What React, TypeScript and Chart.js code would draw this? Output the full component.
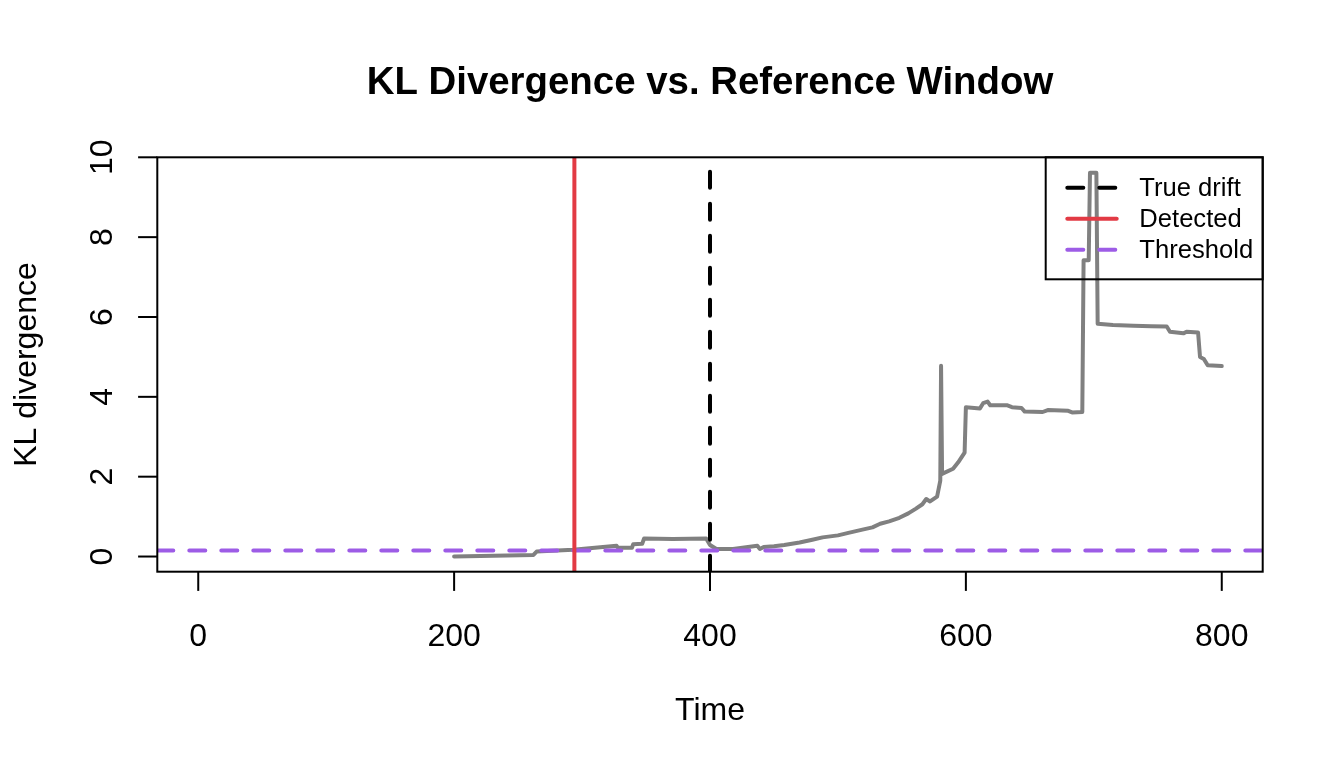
import { useEffect, useRef } from "react";
import { Chart, registerables } from "chart.js";

Chart.register(...registerables);

// ---- data ----
const times = [
  200, 262, 264.5, 293, 327, 328, 339, 340, 347, 348.5, 371, 397, 400, 405, 418,
  437, 439, 442, 450, 458, 470, 480, 488, 500, 509, 520, 527, 533, 540, 548, 555,
  561, 566, 569, 572, 577.5, 580, 580.6, 581.4, 590, 594, 599, 600, 611, 613.5,
  617, 619, 632, 636, 643.5, 646, 660, 664, 680, 683, 691, 692, 696, 697, 702,
  703, 715, 731, 745, 757, 759.5, 770, 772.5, 781.5, 783, 786, 789, 800,
];
const klValues = [
  0.0, 0.04, 0.125, 0.17, 0.27, 0.22, 0.22, 0.31, 0.32, 0.45, 0.44, 0.45, 0.29,
  0.19, 0.19, 0.27, 0.19, 0.24, 0.26, 0.29, 0.35, 0.42, 0.48, 0.53, 0.6, 0.68,
  0.73, 0.82, 0.88, 0.97, 1.08, 1.2, 1.31, 1.44, 1.38, 1.5, 1.9, 4.78, 2.07, 2.2,
  2.36, 2.6, 3.74, 3.71, 3.84, 3.88, 3.79, 3.79, 3.74, 3.72, 3.63, 3.62, 3.67,
  3.65, 3.61, 3.62, 7.42, 7.42, 9.61, 9.61, 5.83, 5.8, 5.78, 5.77, 5.76, 5.63,
  5.59, 5.63, 5.61, 5.0, 4.95, 4.79, 4.77,
];
const xTicks = [0, 200, 400, 600, 800];
const yTicks = [0, 2, 4, 6, 8, 10];
const trueDriftTime = 400;
const detectedTime = 294;
const thresholdValue = 0.15;
const xRange = [-32, 832];
const yRange = [-0.38, 10];
const legendLabels = ["True drift", "Detected", "Threshold"];

const titleText = "KL Divergence vs. Reference Window";
const xLabel = "Time";
const yLabel = "KL divergence";

const GRAY = "#808080";
const RED = "#E23A44";
const PURPLE = "#9D5CE6";
const BLACK = "#000000";
const FONT = "'Liberation Sans', Arial, Helvetica, sans-serif";
const LW = 4;
const DASH = [16, 16];

const decorPlugin = {
  id: "rDecor",
  afterDraw(chart: any) {
    const ctx = chart.ctx as CanvasRenderingContext2D;
    const { left, right, top, bottom } = chart.chartArea;
    const xs = chart.scales.x;
    const ys = chart.scales.y;
    ctx.save();
    ctx.strokeStyle = "#000";
    ctx.fillStyle = "#000";
    ctx.lineWidth = 2;
    ctx.setLineDash([]);
    // box
    ctx.strokeRect(left, top, right - left, bottom - top);
    // x ticks
    ctx.font = `32px ${FONT}`;
    ctx.textAlign = "center";
    ctx.textBaseline = "alphabetic";
    for (const v of xTicks) {
      const px = xs.getPixelForValue(v);
      ctx.beginPath();
      ctx.moveTo(px, bottom);
      ctx.lineTo(px, bottom + 19.2);
      ctx.stroke();
      ctx.fillText(String(v), px, 646);
    }
    // y ticks
    for (const v of yTicks) {
      const py = ys.getPixelForValue(v);
      ctx.beginPath();
      ctx.moveTo(left - 19.2, py);
      ctx.lineTo(left, py);
      ctx.stroke();
      ctx.save();
      ctx.translate(112, py);
      ctx.rotate(-Math.PI / 2);
      ctx.fillText(String(v), 0, 0);
      ctx.restore();
    }
    // axis titles
    ctx.fillText(xLabel, (left + right) / 2, 719.5);
    ctx.save();
    ctx.translate(36, (top + bottom) / 2);
    ctx.rotate(-Math.PI / 2);
    ctx.fillText(yLabel, 0, 0);
    ctx.restore();
    // main title
    ctx.font = `bold 38.4px ${FONT}`;
    ctx.fillText(titleText, (left + right) / 2, 94);
    // legend
    const lx0 = 1045.7;
    const ly0 = 157.3;
    const lx1 = right;
    const ly1 = 279.3;
    ctx.lineWidth = 2;
    ctx.strokeRect(lx0, ly0, lx1 - lx0, ly1 - ly0);
    const rows = [187.7, 218.7, 249.7];
    const colors = [BLACK, RED, PURPLE];
    const dashes = [DASH, [], DASH];
    ctx.font = `25.6px ${FONT}`;
    ctx.textAlign = "left";
    ctx.textBaseline = "middle";
    legendLabels.forEach((lab, i) => {
      ctx.beginPath();
      ctx.lineWidth = LW;
      ctx.lineCap = "round";
      ctx.strokeStyle = colors[i];
      ctx.setLineDash(dashes[i]);
      ctx.moveTo(1067.3, rows[i]);
      ctx.lineTo(1116.7, rows[i]);
      ctx.stroke();
      ctx.setLineDash([]);
      ctx.fillStyle = "#000";
      ctx.fillText(lab, 1139.3, rows[i] + 1);
    });
    ctx.restore();
  },
};

export default function App() {
  const ref = useRef<HTMLCanvasElement | null>(null);
  useEffect(() => {
    document.body.style.margin = "0";
    const canvas = ref.current;
    if (!canvas) return;
    const klPoints = times.map((t, i) => ({ x: t, y: klValues[i] }));
    const common = {
      showLine: true,
      pointRadius: 0,
      pointHoverRadius: 0,
      borderWidth: LW,
      borderCapStyle: "round" as const,
      borderJoinStyle: "round" as const,
      tension: 0,
      fill: false,
    };
    const chart = new Chart(canvas, {
      type: "scatter",
      data: {
        datasets: [
          {
            ...common,
            label: "KL",
            data: klPoints,
            borderColor: GRAY,
            order: 10,
          },
          {
            ...common,
            label: "Threshold",
            data: [
              { x: xRange[0], y: thresholdValue },
              { x: xRange[1], y: thresholdValue },
            ],
            borderColor: PURPLE,
            borderDash: DASH,
            order: 3,
          },
          {
            ...common,
            label: "Detected",
            data: [
              { x: detectedTime, y: yRange[0] },
              { x: detectedTime, y: yRange[1] },
            ],
            borderColor: RED,
            order: 2,
          },
          {
            ...common,
            label: "True drift",
            data: [
              { x: trueDriftTime, y: yRange[0] },
              { x: trueDriftTime, y: yRange[1] },
            ],
            borderColor: BLACK,
            borderDash: DASH,
            order: 1,
          },
        ],
      },
      options: {
        responsive: false,
        animation: false,
        devicePixelRatio: 1,
        layout: {
          padding: { left: 157.3, right: 81.3, top: 157.3, bottom: 196.3 },
        },
        scales: {
          x: { type: "linear", min: xRange[0], max: xRange[1], display: false },
          y: { type: "linear", min: yRange[0], max: yRange[1], display: false },
        },
        plugins: {
          legend: { display: false },
          title: { display: false },
          tooltip: { enabled: false },
        },
      },
      plugins: [decorPlugin],
    });
    return () => chart.destroy();
  }, []);
  return (
    <div style={{ width: 1344, height: 768, background: "#fff" }}>
      <canvas ref={ref} width={1344} height={768} style={{ display: "block" }} />
    </div>
  );
}
